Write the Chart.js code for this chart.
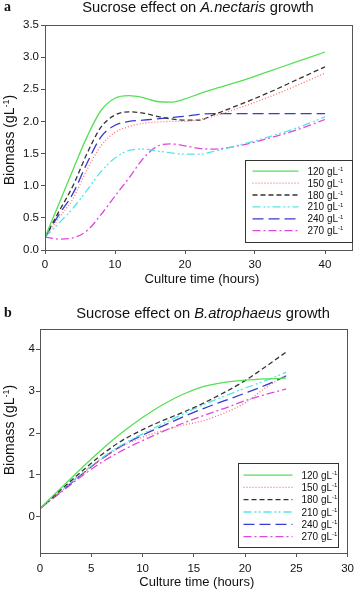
<!DOCTYPE html>
<html>
<head>
<script src="https://cdn.jsdelivr.net/npm/chart.js@4.4.1/dist/chart.umd.min.js"></script>
<style>
  html, body { margin: 0; padding: 0; background: #fff; overflow: hidden; }
  .panel { position: absolute; left: 0; width: 359px; }
  #panelA { top: 0; height: 290px; }
  #panelB { top: 290px; height: 303px; }
</style>
</head>
<body>
<div class="panel" id="panelA"><canvas id="chartA"></canvas></div>
<div class="panel" id="panelB"><canvas id="chartB"></canvas></div>

<script>
// ---- data ----
const concentrations = ['120', '150', '180', '210', '240', '270'];

// panel a: A.nectaris
const timeA = [0, 2, 4, 6, 8, 10, 12, 14, 16, 18, 20, 22, 24, 28, 32, 36, 40];
const a120 = [0.2, 0.72, 1.25, 1.76, 2.17, 2.36, 2.4, 2.37, 2.31, 2.3, 2.35, 2.43, 2.5, 2.63, 2.78, 2.93, 3.08];
const a150 = [0.2, 0.5, 0.8, 1.25, 1.62, 1.83, 1.92, 1.97, 1.99, 2.0, 2.0, 2.03, 2.08, 2.22, 2.38, 2.56, 2.75];
const a180 = [0.2, 0.6, 1.0, 1.5, 1.91, 2.1, 2.15, 2.13, 2.08, 2.04, 2.02, 2.02, 2.1, 2.27, 2.45, 2.65, 2.85];
const a210 = [0.2, 0.42, 0.65, 0.93, 1.22, 1.43, 1.55, 1.57, 1.54, 1.51, 1.49, 1.49, 1.53, 1.64, 1.76, 1.9, 2.07];
const a240 = [0.2, 0.55, 0.88, 1.35, 1.76, 1.94, 2.0, 2.02, 2.04, 2.06, 2.08, 2.11, 2.12, 2.12, 2.12, 2.12, 2.12];
const a270 = [0.2, 0.17, 0.19, 0.3, 0.55, 0.84, 1.12, 1.42, 1.61, 1.65, 1.62, 1.58, 1.57, 1.63, 1.74, 1.87, 2.03];

// panel b: B.atrophaeus
const timeB = [0, 2, 4, 6, 8, 10, 12, 14, 16, 18, 20, 22, 24];
const b120 = [0.2, 0.68, 1.15, 1.6, 2.01, 2.37, 2.68, 2.93, 3.11, 3.21, 3.26, 3.29, 3.31];
const b150 = [0.2, 0.6, 1.0, 1.38, 1.68, 1.9, 2.06, 2.19, 2.3, 2.48, 2.72, 3.08, 3.38];
const b180 = [0.2, 0.64, 1.07, 1.48, 1.82, 2.08, 2.3, 2.5, 2.72, 2.97, 3.25, 3.58, 3.93];
const b210 = [0.2, 0.62, 1.02, 1.4, 1.72, 1.98, 2.22, 2.46, 2.68, 2.88, 3.07, 3.25, 3.45];
const b240 = [0.2, 0.6, 1.0, 1.38, 1.7, 1.95, 2.17, 2.39, 2.59, 2.77, 2.95, 3.14, 3.36];
const b270 = [0.2, 0.58, 0.96, 1.3, 1.58, 1.82, 2.04, 2.24, 2.42, 2.59, 2.77, 2.92, 3.05];

// tick labels
const ticksAX = [0, 10, 20, 30, 40];
const ticksAY = [0, 0.5, 1, 1.5, 2, 2.5, 3, 3.5];
const ticksBX = [0, 5, 10, 15, 20, 25, 30];
const ticksBY = [0, 1, 2, 3, 4];

// ---- styles ----
const lineColors = ['#55e055', '#ff7070', '#333333', '#55e5e5', '#3a3acc', '#e048e0'];
const lineDashes = [[], [1, 2], [5, 3], [8, 3, 2, 2, 2, 3], [11, 5], [8, 3, 2, 3]];
const FONT = '"Liberation Sans", Arial, sans-serif';

function makeDatasets(time, seriesList) {
  return seriesList.map((vals, i) => ({
    label: concentrations[i] + ' gL-1',
    data: time.map((t, j) => ({ x: t, y: vals[j] })),
    borderColor: lineColors[i],
    borderDash: lineDashes[i],
    borderWidth: 1.3,
    pointRadius: 0,
    fill: false,
    cubicInterpolationMode: 'monotone'
  }));
}

function drawParts(ctx, parts, x, y, size) {
  // parts: [text, style] where style is '', 'italic' or 'sup'
  let cx = x;
  parts.forEach(([txt, st]) => {
    if (st === 'sup') {
      ctx.font = Math.round(size * 0.62) + 'px ' + FONT;
      ctx.fillText(txt, cx, y - size * 0.38);
    } else {
      ctx.font = (st === 'italic' ? 'italic ' : '') + size + 'px ' + FONT;
      ctx.fillText(txt, cx, y);
    }
    cx += ctx.measureText(txt).width;
  });
}
function partsWidth(ctx, parts, size) {
  let w = 0;
  parts.forEach(([txt, st]) => {
    ctx.font = st === 'sup' ? Math.round(size * 0.62) + 'px ' + FONT
      : (st === 'italic' ? 'italic ' : '') + size + 'px ' + FONT;
    w += ctx.measureText(txt).width;
  });
  return w;
}

const decor = {
  id: 'decor',
  afterDraw(chart, args, o) {
    const { ctx, chartArea: a } = chart;
    ctx.save();
    ctx.fillStyle = '#111';
    ctx.textAlign = 'left';
    ctx.textBaseline = 'alphabetic';

    // frame
    ctx.strokeStyle = '#555';
    ctx.lineWidth = 1;
    ctx.strokeRect(Math.round(a.left) + 0.5, Math.round(a.top) + 0.5,
      Math.round(a.right - a.left) - 1, Math.round(a.bottom - a.top));

    // panel letter
    ctx.font = 'bold 14px "Liberation Serif", serif';
    ctx.fillText(o.letter, o.letterX, o.letterY);

    // title
    const tParts = [['Sucrose effect on ', ''], [o.species, 'italic'], [' growth', '']];
    const tw = partsWidth(ctx, tParts, o.titleSize);
    drawParts(ctx, tParts, o.titleCx - tw / 2, o.titleY, o.titleSize);

    // x title
    const xParts = [['Culture time (hours)', '']];
    const xw = partsWidth(ctx, xParts, 13);
    drawParts(ctx, xParts, (a.left + a.right) / 2 + 3 - xw / 2, o.xTitleY, 13);

    // y title
    const yParts = [['Biomass (gL', ''], ['-1', 'sup'], [')', '']];
    const yw = partsWidth(ctx, yParts, 14);
    ctx.save();
    ctx.translate(o.yTitleX, o.yTitleCy);
    ctx.rotate(-Math.PI / 2);
    drawParts(ctx, yParts, -yw / 2, 0, 14);
    ctx.restore();

    // legend box
    const L = o.legend;
    const bx = Math.round(a.right - L.rightInset - L.w) + 0.5;
    const by = Math.round(a.bottom - L.bottomInset - L.h) + 0.5;
    ctx.fillStyle = '#fff';
    ctx.fillRect(bx, by, L.w, L.h);
    ctx.strokeStyle = '#333';
    ctx.strokeRect(bx, by, L.w, L.h);
    chart.data.datasets.forEach((ds, i) => {
      const ry = by + L.rowTop + i * L.rowGap;
      ctx.strokeStyle = ds.borderColor;
      ctx.lineWidth = 1.3;
      ctx.setLineDash(ds.borderDash);
      ctx.beginPath();
      ctx.moveTo(bx + L.lineX0, ry);
      ctx.lineTo(bx + L.lineX1, ry);
      ctx.stroke();
      ctx.setLineDash([]);
      ctx.fillStyle = '#111';
      drawParts(ctx, [[concentrations[i] + ' gL', ''], ['-1', 'sup']], bx + L.textX, ry + 3.5, 10);
    });
    ctx.restore();
  }
};

function makeChart(id, time, seriesList, xr, yr, xt, yt, layout, decorOpts) {
  return new Chart(document.getElementById(id), {
    type: 'line',
    data: { datasets: makeDatasets(time, seriesList) },
    options: {
      responsive: true,
      maintainAspectRatio: false,
      animation: false,
      layout: { padding: layout.padding },
      plugins: { legend: { display: false }, tooltip: { enabled: false }, decor: decorOpts },
      scales: {
        x: {
          type: 'linear', min: xr[0], max: xr[1],
          afterBuildTicks: s => { s.ticks = xt.map(v => ({ value: v })); },
          afterFit: s => { s.height = layout.xHeight; },
          grid: { drawOnChartArea: false, tickLength: 4, color: '#555' },
          border: { display: false },
          ticks: { color: '#111', padding: layout.xPad, maxRotation: 0, font: { family: FONT, size: 11.5 } }
        },
        y: {
          min: yr[0], max: yr[1],
          afterBuildTicks: s => { s.ticks = yt.map(v => ({ value: v })); },
          afterFit: s => { s.width = layout.yWidth; },
          grid: { drawOnChartArea: false, tickLength: 4, color: '#555' },
          border: { display: false },
          ticks: {
            color: '#111', padding: layout.yPad, font: { family: FONT, size: 11.5 },
            callback: v => layout.decimals ? v.toFixed(1) : String(v)
          }
        }
      }
    },
    plugins: [decor]
  });
}

makeChart('chartA', timeA, [a120, a150, a180, a210, a240, a270],
  [0, 44], [0, 3.5], ticksAX, ticksAY,
  { padding: { top: 25, right: 6, left: 0, bottom: 0 }, xHeight: 40, yWidth: 45, xPad: 4, yPad: 2, decimals: true },
  { letter: 'a', letterX: 4, letterY: 11, species: 'A.nectaris', titleCx: 198, titleY: 12, titleSize: 14.7,
    xTitleY: 283, yTitleX: 14, yTitleCy: 140,
    legend: { rightInset: 1, bottomInset: 8, w: 107, h: 82, rowTop: 10.7, rowGap: 11.9, lineX0: 7, lineX1: 53, textX: 62 } });

makeChart('chartB', timeB, [b120, b150, b180, b210, b240, b270],
  [0, 30], [-0.86, 4.48], ticksBX, ticksBY,
  { padding: { top: 39, right: 6, left: 0, bottom: 0 }, xHeight: 40, yWidth: 40, xPad: 5, yPad: 1, decimals: false },
  { letter: 'b', letterX: 4, letterY: 27, species: 'B.atrophaeus', titleCx: 203, titleY: 28, titleSize: 14.7,
    xTitleY: 296, yTitleX: 14, yTitleCy: 140,
    legend: { rightInset: 10, bottomInset: 6, w: 100, h: 84, rowTop: 11.6, rowGap: 12.3, lineX0: 5, lineX1: 54, textX: 63 } });
</script>
</body>
</html>
